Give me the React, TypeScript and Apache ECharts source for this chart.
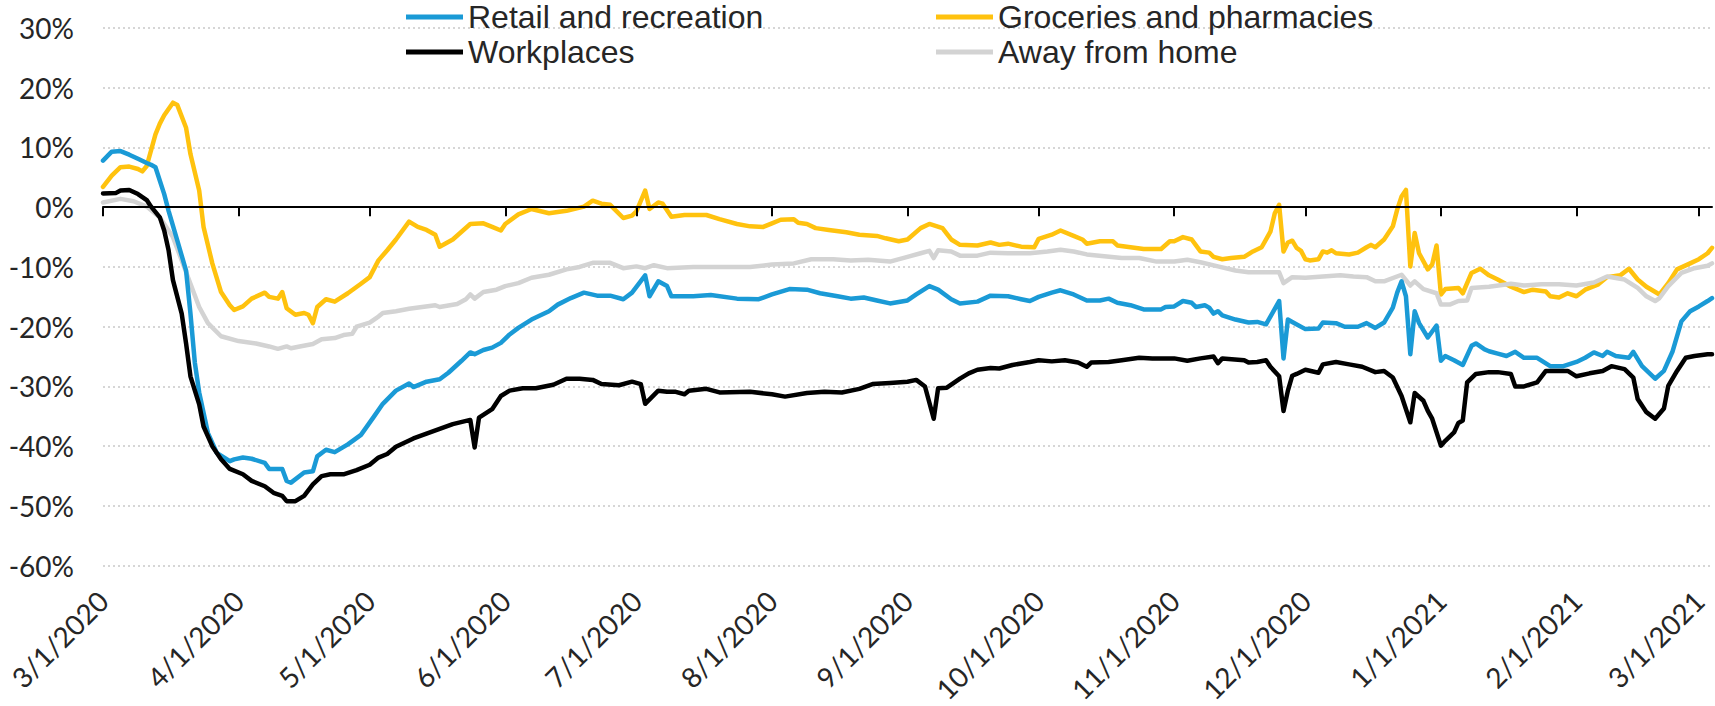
import React, { useEffect, useRef } from "react";
import * as echarts from "echarts";

// Day axis: day 0 = 3/1/2020, daily through 3/4/2021
const START_UTC = Date.UTC(2020, 2, 1);
const DAY_COUNT = 369;
const categories: string[] = [];
for (let i = 0; i < DAY_COUNT; i++) {
  const d = new Date(START_UTC + i * 86400000);
  categories.push(`${d.getUTCMonth() + 1}/${d.getUTCDate()}/${d.getUTCFullYear()}`);
}

const Y_MIN = -60;
const Y_MAX = 30;
const Y_STEP = 10;

const seriesNames = [
  "Retail and recreation",
  "Groceries and pharmacies",
  "Workplaces",
  "Away from home",
];

// [days since 3/1/2020, % change from baseline]
const retail: [number, number][] = [
  [0, 7.8], [2, 9.3], [4, 9.4], [6, 8.8], [8, 8.1], [10, 7.4], [11, 7.1], [12, 6.7], [14, 2.2], [15, -0.6],
  [17, -5.6], [19, -10.6], [20, -17.8], [21, -26], [22, -31], [24, -37.8], [26, -41.1], [29, -42.5], [30, -42.2],
  [32, -41.9], [34, -42.1], [37, -42.8], [38, -43.8], [41, -43.8], [42, -45.8], [43, -46.1], [46, -44.4],
  [48, -44.2], [49, -41.7], [51, -40.6], [53, -41], [56, -39.7], [59, -38.1], [62, -35], [64, -32.9],
  [67, -30.7], [70, -29.5], [71, -30.1], [74, -29.2], [77, -28.8], [79, -27.7], [82, -25.7], [84, -24.3],
  [85, -24.6], [87, -23.9], [89, -23.5], [91, -22.7], [93, -21.3], [95, -20.2], [98, -18.8], [102, -17.4],
  [104, -16.3], [107, -15.2], [110, -14.3], [113, -14.8], [116, -14.8], [119, -15.4], [121, -14.3],
  [124, -11.4], [125, -14.9], [127, -12.4], [129, -13.2], [130, -14.9], [135, -14.9], [139, -14.7],
  [145, -15.3], [150, -15.4], [153, -14.6], [157, -13.7], [161, -13.8], [164, -14.4], [168, -14.9],
  [171, -15.3], [174, -15.1], [177, -15.6], [180, -16.1], [184, -15.6], [186, -14.6], [189, -13.2],
  [191, -13.8], [194, -15.4], [196, -16.1], [200, -15.8], [203, -14.8], [207, -14.9], [210, -15.4],
  [212, -15.7], [214, -15], [217, -14.3], [219, -13.9], [222, -14.6], [225, -15.6], [228, -15.6],
  [230, -15.3], [232, -16], [235, -16.4], [238, -17.1], [242, -17.1], [243, -16.7], [245, -16.6],
  [247, -15.7], [249, -16], [250, -16.7], [252, -16.4], [253, -16.8], [254, -17.8], [255, -17.4],
  [256, -18.1], [259, -18.8], [262, -19.3], [264, -19.2], [266, -19.6], [267, -18.3], [269, -15.7],
  [270, -25.3], [271, -18.8], [272, -19.2], [275, -20.4], [278, -20.3], [279, -19.3], [282, -19.4],
  [284, -20], [287, -20], [289, -19.4], [291, -20.2], [293, -19.3], [295, -16.8], [296, -14.3],
  [297, -12.4], [298, -14.9], [299, -24.6], [300, -17.4], [301, -19.4], [303, -21.8], [305, -19.8],
  [306, -25.7], [307, -24.9], [309, -25.6], [311, -26.4], [313, -23.2], [314, -22.8], [316, -23.8],
  [317, -24.1], [319, -24.5], [321, -24.9], [323, -24.2], [325, -25.2], [328, -25.2], [331, -26.6],
  [334, -26.6], [337, -25.9], [339, -25.2], [341, -24.3], [343, -24.9], [344, -24.2], [346, -24.9],
  [349, -25.2], [350, -24.2], [352, -26.6], [355, -28.7], [357, -27.4], [359, -24.1], [361, -19.1],
  [363, -17.4], [365, -16.6], [367, -15.7], [368, -15.2],
];

const groceries: [number, number][] = [
  [0, 3.4], [2, 5.3], [4, 6.7], [6, 6.8], [8, 6.4], [9, 6.0], [10, 6.9], [12, 12.2], [13, 14], [14, 15.4],
  [16, 17.5], [17, 17.1], [19, 13.3], [20, 8.9], [22, 2.8], [23, -3.3], [25, -9.4], [27, -14.2], [29, -16.4],
  [30, -17.2], [32, -16.6], [34, -15.3], [37, -14.3], [38, -15], [40, -15.3], [41, -14.2], [42, -16.9],
  [44, -18], [46, -17.7], [47, -18], [48, -19.4], [49, -16.7], [51, -15.4], [53, -15.8], [56, -14.4],
  [59, -12.8], [61, -11.7], [63, -8.9], [65, -7.2], [67, -5.4], [70, -2.4], [72, -3.3], [74, -3.8],
  [76, -4.6], [77, -6.6], [80, -5.4], [82, -4.1], [84, -2.8], [87, -2.7], [89, -3.3], [91, -3.9],
  [92, -2.8], [95, -1.2], [98, -0.3], [102, -1.0], [106, -0.6], [110, 0.1], [112, 1.1], [114, 0.6],
  [116, 0.4], [119, -1.8], [121, -1.4], [122, -0.7], [124, 2.8], [125, -0.3], [127, 0.8], [128, 0.6],
  [130, -1.6], [133, -1.3], [138, -1.3], [141, -2], [145, -2.8], [148, -3.2], [151, -3.3], [153, -2.7],
  [155, -2.1], [158, -2], [159, -2.6], [161, -2.8], [163, -3.5], [166, -3.8], [170, -4.2], [173, -4.6],
  [177, -4.8], [179, -5.2], [182, -5.7], [184, -5.4], [187, -3.5], [189, -2.8], [192, -3.5], [194, -5.4],
  [196, -6.3], [200, -6.4], [203, -5.9], [205, -6.3], [207, -6.1], [210, -6.6], [213, -6.7], [214, -5.3],
  [217, -4.6], [219, -3.9], [222, -4.8], [224, -5.4], [225, -6.1], [228, -5.7], [231, -5.7], [232, -6.4],
  [235, -6.7], [238, -7], [242, -7], [244, -5.7], [245, -5.7], [247, -5], [249, -5.4], [251, -7.4],
  [253, -7.6], [254, -8.3], [256, -8.7], [258, -8.5], [261, -8.3], [263, -7.4], [265, -6.7], [267, -4.1],
  [268, -1], [269, 0.4], [270, -7.4], [271, -5.9], [272, -5.6], [273, -6.8], [274, -7.3], [275, -8.7],
  [276, -8.9], [278, -8.7], [279, -7.4], [280, -7.6], [281, -7.2], [282, -7.7], [285, -7.9], [287, -7.6],
  [289, -6.7], [290, -6.3], [291, -6.7], [293, -5.4], [295, -3.2], [296, -0.4], [297, 1.8], [298, 2.9],
  [299, -9.9], [300, -4.3], [301, -7.7], [303, -10.4], [304, -9.6], [305, -6.4], [306, -14.6], [307, -13.7],
  [310, -13.5], [311, -14.4], [313, -11], [315, -10.3], [317, -11.4], [319, -12.1], [322, -13.3],
  [325, -14.2], [327, -13.8], [330, -14.1], [331, -14.9], [333, -15.1], [335, -14.4], [337, -14.9],
  [339, -13.8], [342, -12.9], [344, -11.7], [347, -11.4], [349, -10.3], [351, -12.1], [353, -13.3],
  [356, -14.6], [358, -12.7], [360, -10.4], [363, -9.4], [365, -8.7], [367, -7.7], [368, -6.8],
];

const workplaces: [number, number][] = [
  [0, 2.3], [3, 2.4], [4, 2.8], [6, 2.9], [8, 2.2], [10, 1.2], [11, 0.1], [13, -1.7], [14, -3.9], [15, -7.2],
  [16, -12.2], [18, -17.8], [19, -22.8], [20, -28.3], [22, -33], [23, -36.7], [25, -40], [27, -42.2],
  [29, -43.8], [32, -44.7], [34, -45.8], [37, -46.7], [39, -47.8], [41, -48.3], [42, -49.2], [44, -49.2],
  [46, -48.3], [48, -46.4], [50, -45], [52, -44.7], [55, -44.7], [58, -44], [61, -43.1], [63, -41.9],
  [65, -41.3], [67, -40.1], [71, -38.7], [74, -37.9], [77, -37.1], [80, -36.3], [84, -35.6], [85, -40.2],
  [86, -35.2], [89, -33.8], [91, -31.6], [93, -30.7], [96, -30.3], [99, -30.3], [103, -29.7], [106, -28.7],
  [109, -28.7], [112, -28.9], [114, -29.6], [118, -29.8], [121, -29.2], [123, -29.6], [124, -32.9],
  [127, -30.7], [129, -30.9], [131, -30.9], [133, -31.3], [134, -30.7], [138, -30.4], [141, -31],
  [148, -30.9], [153, -31.3], [156, -31.7], [161, -31.1], [165, -30.9], [169, -31], [173, -30.4],
  [176, -29.6], [180, -29.4], [184, -29.2], [186, -28.9], [188, -30], [190, -35.4], [191, -30.3],
  [193, -30.2], [196, -28.7], [198, -27.8], [200, -27.2], [203, -26.9], [205, -27], [208, -26.4],
  [212, -25.9], [214, -25.6], [217, -25.8], [220, -25.6], [223, -26], [225, -26.7], [226, -26],
  [230, -25.9], [233, -25.6], [237, -25.2], [240, -25.3], [245, -25.3], [248, -25.7], [251, -25.3],
  [254, -25], [255, -26.1], [256, -25.3], [261, -25.6], [262, -26], [264, -25.9], [266, -25.6],
  [267, -26.7], [269, -28.3], [270, -34.1], [271, -30.7], [272, -28.2], [273, -27.9], [275, -27.2],
  [278, -27.7], [279, -26.3], [282, -25.9], [285, -26.3], [288, -26.7], [291, -27.6], [293, -27.4],
  [295, -28.5], [297, -31.6], [299, -36], [300, -31.1], [302, -32.4], [303, -34.1], [304, -35.4],
  [306, -39.9], [307, -39.1], [309, -37.7], [310, -36.1], [311, -35.7], [312, -29.3], [314, -27.9],
  [317, -27.6], [319, -27.6], [322, -27.9], [323, -30], [325, -30], [328, -29.3], [330, -27.4],
  [333, -27.4], [335, -27.4], [337, -28.3], [340, -27.8], [343, -27.4], [345, -26.6], [348, -27.1],
  [350, -28.5], [351, -32.1], [353, -34.3], [355, -35.4], [357, -33.7], [358, -29.9], [360, -27.4],
  [362, -25.2], [364, -24.9], [367, -24.6], [368, -24.6],
];

const awayFromHome: [number, number][] = [
  [0, 0.8], [4, 1.4], [7, 1.0], [10, 0.1], [13, -1.7], [16, -5], [18, -8.9], [20, -12.8], [22, -16.7],
  [24, -19.4], [27, -21.6], [31, -22.4], [35, -22.8], [38, -23.3], [40, -23.7], [42, -23.3], [43, -23.6],
  [45, -23.3], [48, -22.9], [50, -22.1], [53, -21.9], [55, -21.4], [57, -21.2], [58, -20], [61, -19.3],
  [63, -18.3], [64, -17.7], [67, -17.4], [70, -17], [73, -16.7], [76, -16.4], [77, -16.7], [81, -16.2],
  [83, -15.4], [84, -14.6], [85, -15.3], [87, -14.2], [90, -13.8], [92, -13.2], [95, -12.7], [98, -11.8],
  [102, -11.3], [106, -10.4], [109, -10], [112, -9.3], [116, -9.3], [119, -10.2], [122, -9.9], [124, -10.2],
  [126, -9.7], [129, -10.2], [135, -10], [148, -10], [153, -9.6], [158, -9.4], [162, -8.7], [167, -8.7],
  [171, -8.9], [175, -8.8], [180, -9.1], [184, -8.3], [187, -7.7], [189, -7.3], [190, -8.5], [191, -7.2],
  [194, -7.4], [196, -8.1], [200, -8.1], [203, -7.6], [207, -7.7], [212, -7.7], [216, -7.4], [219, -7.1],
  [222, -7.4], [225, -7.9], [229, -8.2], [233, -8.5], [237, -8.5], [241, -9.1], [245, -9.1], [248, -8.8],
  [251, -9.2], [255, -9.9], [259, -10.6], [262, -10.9], [266, -10.9], [269, -10.9], [270, -12.7],
  [272, -11.7], [275, -11.8], [279, -11.6], [283, -11.4], [286, -11.6], [289, -11.7], [291, -12.4],
  [293, -12.4], [297, -11.3], [299, -13.1], [300, -12.4], [302, -13.7], [305, -14.4], [306, -16.3],
  [308, -16.3], [310, -15.7], [312, -15.6], [313, -13.5], [317, -13.3], [320, -13], [322, -12.8],
  [325, -13.1], [329, -12.9], [333, -12.9], [337, -13.1], [341, -12.6], [344, -11.6], [348, -12.1],
  [351, -13.5], [353, -14.9], [355, -15.7], [356, -15.2], [358, -13.2], [361, -11], [364, -10.2],
  [367, -9.8], [368, -9.4],
];

const COLORS = {
  retail: "#1a9ad6",
  groceries: "#ffc20e",
  workplaces: "#000000",
  away: "#d3d3d3",
};

const isMonthStart = (index: number) => categories[index].split("/")[1] === "1";

export default function App() {
  const ref = useRef<HTMLDivElement>(null);

  useEffect(() => {
    if (!ref.current) return;
    const chart = echarts.init(ref.current, undefined, { renderer: "svg" });

    const toData = (pts: [number, number][]) => pts.map(([d, v]) => [categories[d], v]);
    const lineSeries = (name: string, pts: [number, number][], color: string, z: number) => ({
      name,
      type: "line",
      xAxisIndex: 0,
      yAxisIndex: 0,
      data: toData(pts),
      showSymbol: false,
      symbol: "none",
      silent: true,
      z,
      lineStyle: { color, width: 4.5, join: "round", cap: "round" },
      itemStyle: { color },
    });

    const legendBase = {
      icon: "rect",
      itemWidth: 57,
      itemHeight: 5,
      padding: 0,
      selectedMode: false,
      textStyle: { fontFamily: "Liberation Sans, Arial, sans-serif", fontSize: 32, color: "#262626" },
    };

    chart.setOption({
      animation: false,
      backgroundColor: "#ffffff",
      grid: { left: 103, right: 3, top: 28, bottom: 140, containLabel: false },
      legend: [
        { ...legendBase, data: [seriesNames[0]], left: 406, top: 1 },
        { ...legendBase, data: [seriesNames[1]], left: 936, top: 1 },
        { ...legendBase, data: [seriesNames[2]], left: 406, top: 36 },
        { ...legendBase, data: [seriesNames[3]], left: 936, top: 36 },
      ],
      xAxis: [
        {
          type: "category",
          data: categories,
          boundaryGap: false,
          position: "bottom",
          axisLine: { show: true, onZero: true, lineStyle: { color: "#000", width: 2 } },
          axisTick: {
            show: true,
            interval: (i: number) => isMonthStart(i),
            length: 9,
            lineStyle: { color: "#000", width: 2 },
          },
          axisLabel: { show: false },
          splitLine: { show: false },
          z: 5,
        },
        {
          type: "category",
          data: categories,
          boundaryGap: false,
          position: "bottom",
          axisLine: { show: false, onZero: false },
          axisTick: { show: false },
          axisLabel: {
            show: true,
            interval: (i: number) => isMonthStart(i),
            rotate: 45,
            margin: 30,
            fontFamily: "Lato, sans-serif",
            fontSize: 28,
            color: "#262626",
          },
          splitLine: { show: false },
        },
      ],
      yAxis: {
        type: "value",
        min: Y_MIN,
        max: Y_MAX,
        interval: Y_STEP,
        axisLine: { show: false },
        axisTick: { show: false },
        axisLabel: {
          formatter: (v: number) => `${v}%`,
          fontFamily: "Lato, sans-serif",
          fontSize: 28,
          color: "#262626",
          margin: 29,
        },
        splitLine: { show: true, lineStyle: { color: "#d6d6d6", width: 2, type: [2, 3] } },
      },
      series: [
        lineSeries(seriesNames[1], groceries, COLORS.groceries, 2),
        lineSeries(seriesNames[3], awayFromHome, COLORS.away, 3),
        lineSeries(seriesNames[0], retail, COLORS.retail, 4),
        lineSeries(seriesNames[2], workplaces, COLORS.workplaces, 6),
      ],
    });

    return () => chart.dispose();
  }, []);

  return (
    <div
      ref={ref}
      style={{ position: "absolute", left: 0, top: 0, width: 1715, height: 706, background: "#fff" }}
    />
  );
}
